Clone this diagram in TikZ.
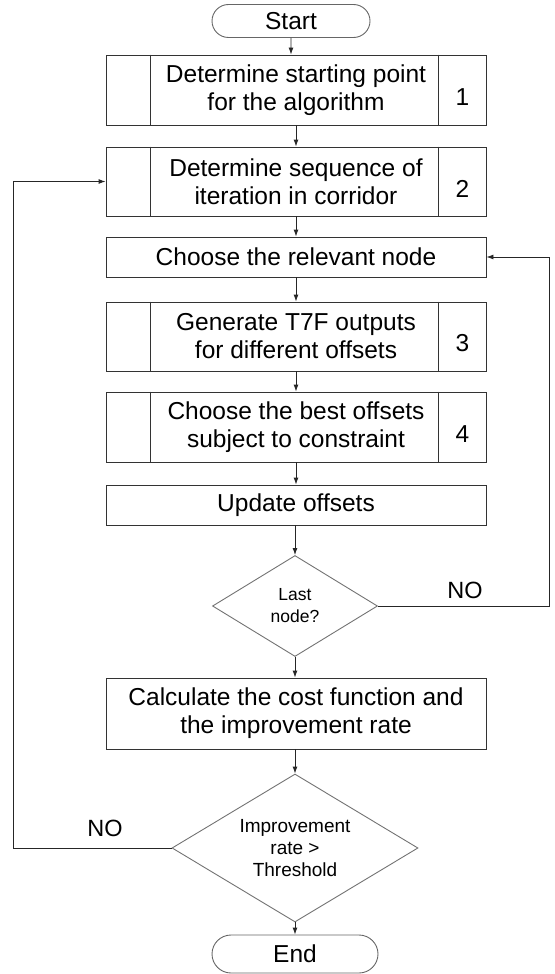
\documentclass[tikz,border=0pt]{standalone}
\usepackage{fontspec}
\setmainfont{Liberation Sans}
\usetikzlibrary{shapes.geometric,shapes.misc,arrows.meta}

\begin{document}
\begin{tikzpicture}[x=1pt,y=-1pt,
  txt/.style={font=\fontsize{24.5}{28}\selectfont, align=center},
  box/.style={txt, draw=black!80, line width=0.9pt, fill=white,
    minimum width=380pt, inner sep=0pt},
  pbox/.style={box},
  divider/.style={draw=black!80, line width=0.9pt},
  term/.style={txt, rounded rectangle, draw=black!60, line width=0.9pt,
    fill=white, inner sep=0pt},
  dec/.style={diamond, draw=black!55, line width=0.9pt, fill=white,
    inner sep=0pt, align=center},
  num/.style={txt, inner sep=0pt},
  lbl/.style={font=\fontsize{23.5}{28}\selectfont, inner sep=0pt},
  arr/.style={draw=black!85, line width=0.9pt, -{Latex[length=7pt,width=5pt]}}
]
\useasboundingbox (0,0) rectangle (554,974);

% terminators, process steps and decisions
\node[term, minimum width=158pt, minimum height=33pt] (start) at (291,21) {Start};
\node[pbox, minimum height=70pt] (b1) at (296,90) {Determine starting point\\for the algorithm};
\node[pbox, minimum height=69pt] (b2) at (296,181.5) {Determine sequence of\\iteration in corridor};
\node[box, minimum height=40pt] (rel) at (296,257) {Choose the relevant node};
\node[pbox, minimum height=69pt] (b3) at (296,336.5) {Generate T7F outputs\\for different offsets};
\node[pbox, minimum height=70pt] (b4) at (296,427) {Choose the best offsets\\subject to constraint};
\node[box, minimum height=40pt] (upd) at (296,505) {Update offsets};
\node[dec, minimum width=165pt, minimum height=101pt, aspect=1.63,
  font=\fontsize{17.5}{22}\selectfont] (last) at (295,606) {Last\\node?};
\node[box, minimum height=71pt] (calc) at (296,713.5) {Calculate the cost function and\\the improvement rate};
\node[dec, minimum width=246pt, minimum height=148pt, aspect=1.66,
  font=\fontsize{19}{22}\selectfont] (imp) at (295,848) {Improvement\\rate >\\Threshold};
\node[term, minimum width=166pt, minimum height=38pt] (end) at (295,954) {End};

% side cells of the predefined-process boxes and their numbers
\foreach \n/\k in {b1/1,b2/2,b3/3,b4/4}{
  \draw[divider] ([xshift=45pt]\n.north west) -- ([xshift=45pt]\n.south west);
  \draw[divider] ([xshift=-48pt]\n.north east) -- ([xshift=-48pt]\n.south east);
  \node[num] (n\k) at ([xshift=-24pt,yshift=-7pt]\n.east) {\k};
}

% main flow
\draw[arr] (start) -- (start |- b1.north);
\draw[arr] (b1) -- (b2);
\draw[arr] (b2) -- (rel);
\draw[arr] (rel) -- (b3);
\draw[arr] (b3) -- (b4);
\draw[arr] (b4) -- (upd);
\draw[arr] (last.north |- upd.south) -- (last.north);
\draw[arr] (last) -- (last |- calc.north);
\draw[arr] (imp.north |- calc.south) -- (imp.north);
\draw[arr] (imp) -- (end);

% loop back to the next node
\coordinate (rt) at (549,0);
\draw[arr] (last.east) -- (last.east -| rt) -- (rel.east -| rt) -- (rel.east);
\node[lbl] (no1) at (465,590) {NO};

% loop back to the next iteration
\coordinate (lt) at (13,0);
\draw[arr] (imp.west) -- (imp.west -| lt) -- (b2.west -| lt) -- (b2.west);
\node[lbl] (no2) at (105,828) {NO};
\end{tikzpicture}
\end{document}
